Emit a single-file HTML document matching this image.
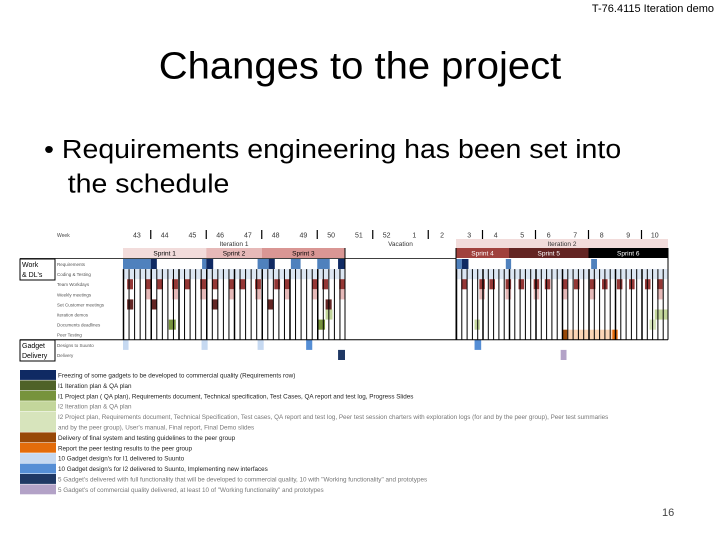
<!DOCTYPE html>
<html><head><meta charset="utf-8"><style>
body{margin:0;background:#fff;}
#slide{position:relative;width:720px;height:540px;overflow:hidden;font-family:"Liberation Sans",sans-serif;background:#fff;}
.t{position:absolute;white-space:nowrap;color:#000;}
</style></head><body>
<div id="slide">
<div class="t" style="right:6px;top:3px;font-size:11px;">T-76.4115 Iteration demo</div>
<div class="t" style="left:0;width:720px;text-align:center;top:44px;font-size:40px;transform:scaleY(0.95);">Changes to the project</div>
<div class="t" style="left:44px;top:132px;font-size:28.5px;line-height:38px;transform:scaleY(0.92);transform-origin:top left;">•&nbsp;Requirements engineering has been set into<br>&nbsp;&nbsp;&nbsp;the schedule</div>
<div class="t" style="left:662px;top:507px;font-size:11px;color:#444;">16</div>
<svg id="chart" width="720" height="540" style="position:absolute;left:0;top:0;" font-family="Liberation Sans, sans-serif"></svg>
</div>
<script>
const weekLabels=["43","44","45","46","47","48","49","50","51","52","1","2","3","4","5","6","7","8","9","10"];
const rowLabels=["Requirements","Coding & Testing","Team Workdays","Weekly meetings","Set Customer meetings","Iteration demos","Documents deadlines","Peer Testing","Designs to Suunto","Delivery"];
const sprints=[["Sprint 1",0,3,"#f2dcdb","#000"],["Sprint 2",3,5,"#e6b9b8","#000"],["Sprint 3",5,8,"#d99694","#000"],["Sprint 4",12,14,"#a0413d","#fff"],["Sprint 5",14,17,"#632523","#fff"],["Sprint 6",17,20,"#000","#fff"]];
const teamDays=[0.15,0.8,1.23,1.77,2.21,2.78,3.22,3.83,4.19,4.76,5.45,5.81,6.82,7.18,7.79,12.2,12.88,13.26,13.87,14.36,14.93,15.35,15.99,16.45,17.05,17.51,18.07,18.53,19.13,19.59];
const weeklyDays=[0.8,1.77,2.78,3.83,4.76,5.81,6.82,7.79,12.88,13.87,14.93,15.99,17.05,19.59];
const customerDays=[0.15,1.0,3.2,5.2,7.3];
// [row, weekPos, lenWeeks, color]
const marks=[
[0,0,1,"#4f81bd"],[0,1,0.22,"#0f2a63"],[0,2.85,0.15,"#4f81bd"],[0,3.0,0.25,"#0f2a63"],[0,4.85,0.4,"#4f81bd"],[0,5.25,0.22,"#0f2a63"],[0,6.05,0.35,"#4f81bd"],[0,7.0,0.45,"#4f81bd"],[0,7.75,0.25,"#0f2a63"],
[0,12,0.22,"#4f81bd"],[0,12.22,0.25,"#0f2a63"],[0,13.88,0.2,"#4f81bd"],[0,17.1,0.22,"#4f81bd"],
[1,0,8,"#dce6f2"],[1,12,8,"#dce6f2"],
[5,7.3,0.25,"#c3d69b"],[5,19.5,0.5,"#c3d69b"],
[6,1.65,0.25,"#76923c"],[6,7.0,0.28,"#76923c"],[6,12.7,0.2,"#c3d69b"],[6,19.3,0.25,"#d7e4bc"],
[7,16.1,2.0,"#fbd5b5"],[7,16.0,0.2,"#984807"],[7,17.9,0.2,"#e46c0a"],
[8,0,0.2,"#c6d9f1"],[8,2.83,0.22,"#c6d9f1"],[8,4.85,0.22,"#c6d9f1"],[8,6.6,0.22,"#558ed5"],[8,12.7,0.25,"#558ed5"],
[9,7.75,0.25,"#1f3864"],[9,15.95,0.22,"#b3a2c7"]
];
const legendColors=["#0f2a63","#4f6228","#77933c","#c3d69b","#d7e4bc","#984807","#e46c0a","#c6d9f1","#558ed5","#1f3864","#b3a2c7"];
const legendTexts=["Freezing of some gadgets to be developed to commercial quality (Requirements row)","I1 Iteration plan & QA plan","I1 Project plan ( QA plan), Requirements document, Technical specification, Test Cases, QA report and test log, Progress Slides","I2 Iteration plan & QA plan","I2 Project plan, Requirements document, Technical Specification, Test cases, QA report and test log, Peer test session charters with exploration logs (for and by the peer group), Peer test summaries|and by the peer group), User's manual, Final report, Final Demo slides","Delivery of final system and testing guidelines to the peer group","Report the peer testing results to the peer group","10 Gadget design's for I1 delivered to Suunto","10 Gadget design's for I2 delivered to Suunto, Implementing new interfaces","5 Gadget's delivered with full functionality that will be developed to commercial quality, 10 with \"Working functionality\" and prototypes","5 Gadget's of commercial quality delivered, at least 10 of \"Working functionality\" and prototypes"];

const svg=document.getElementById('chart');
const NS="http://www.w3.org/2000/svg";
function wx(p){return p<=12?123+p*27.75:456+(p-12)*26.5;}
const rowTop=259,rowH=10.1;
function ry(r){return rowTop+r*rowH;}
function mk(tag,attrs,parent){const e=document.createElementNS(NS,tag);for(const k in attrs)e.setAttribute(k,attrs[k]);(parent||svg).appendChild(e);return e;}
function txt(x,y,s,size,fill,anchor,name){const e=mk('text',{x:x,y:y,'font-size':size,fill:fill,'text-anchor':anchor||'start'});e.textContent=s;


return e;}

txt(57,237,"Week",5,"#444","start","week-header");
weekLabels.forEach((w,i)=>{txt(wx(i+0.5),237.5,w,7,"#333","middle","week-label");});
[1,3,5,7,9,11,13,15,17,19].forEach(i=>{const l=mk('line',{x1:wx(i),x2:wx(i),y1:230,y2:239,stroke:'#000','stroke-width':1.2});

});
txt(wx(4),246,"Iteration 1",6.5,"#333","middle","iteration-1-label");
const it2=mk('rect',{x:wx(12),y:239,width:wx(20)-wx(12),height:9,fill:'#f2dcdb'});


txt(wx(16),246,"Iteration 2",6.5,"#333","middle","iteration-2-label");
txt(wx(10),246,"Vacation",6.5,"#333","middle","vacation-label");
sprints.forEach(s=>{const r=mk('rect',{x:wx(s[1]),y:248,width:wx(s[2])-wx(s[1]),height:10,fill:s[3]});


txt((wx(s[1])+wx(s[2]))/2,255.5,s[0],6.5,s[4],"middle","sprint-label");});

rowLabels.forEach((s,i)=>txt(57,ry(i)+7,s,4.5,"#555","start","row-label"));
const b1=mk('rect',{x:20,y:259,width:35,height:21,fill:'none',stroke:'#000','stroke-width':1});


txt(22,267,"Work",7,"#000","start","work-group-label");txt(22,277,"& DL's",7,"#000","start","work-group-label");
const b2=mk('rect',{x:20,y:340,width:35,height:21,fill:'none',stroke:'#000','stroke-width':1});


txt(22,348,"Gadget",7,"#000","start","gadget-group-label");txt(22,358,"Delivery",7,"#000","start","gadget-group-label");

marks.forEach(m=>{const r=mk('rect',{x:wx(m[1]),y:ry(m[0]),width:wx(m[1]+m[2])-wx(m[1]),height:rowH,fill:m[3]});

});
teamDays.forEach(p=>{const r=mk('rect',{x:wx(p),y:ry(2),width:wx(p+0.21)-wx(p),height:rowH,fill:'#953735'});

});
weeklyDays.forEach(p=>{const r=mk('rect',{x:wx(p),y:ry(3),width:wx(p+0.21)-wx(p),height:rowH,fill:'#e6b9b8'});

});
customerDays.forEach(p=>{const r=mk('rect',{x:wx(p),y:ry(4),width:wx(p+0.22)-wx(p),height:rowH,fill:'#632523'});

});

const gy2=ry(8);
[[0,8],[12,20]].forEach(rg=>{for(let w=rg[0];w<rg[1];w++){for(let d=0;d<5;d++){const p=w+d*0.2;const l=mk('line',{x1:wx(p)+0.5,x2:wx(p)+0.5,y1:ry(1),y2:gy2,stroke:'#000','stroke-width':d==0?1.5:1});

}}});
[wx(8),wx(12),wx(20)].forEach(a=>{const l=mk('line',{x1:a,x2:a,y1:248,y2:gy2,stroke:'#000','stroke-width':1});

});
const hl=mk('line',{x1:20,x2:wx(20),y1:gy2,y2:gy2,stroke:'#000','stroke-width':1});


const hl2=mk('line',{x1:20,x2:wx(12),y1:258.5,y2:258.5,stroke:'#000','stroke-width':0.8});



let ly=370;
legendColors.forEach((c,i)=>{const parts=legendTexts[i].split('|');const h=parts.length*10.4;
const r=mk('rect',{x:20,y:ly,width:36,height:h-0.5,fill:c});


parts.forEach((p,j)=>txt(58,ly+7.5+j*10.4,p,6.3,i==4||i>=9||i==3?"#777":"#222","start","legend-entry"));
ly+=h;});
</script>
</body></html>
